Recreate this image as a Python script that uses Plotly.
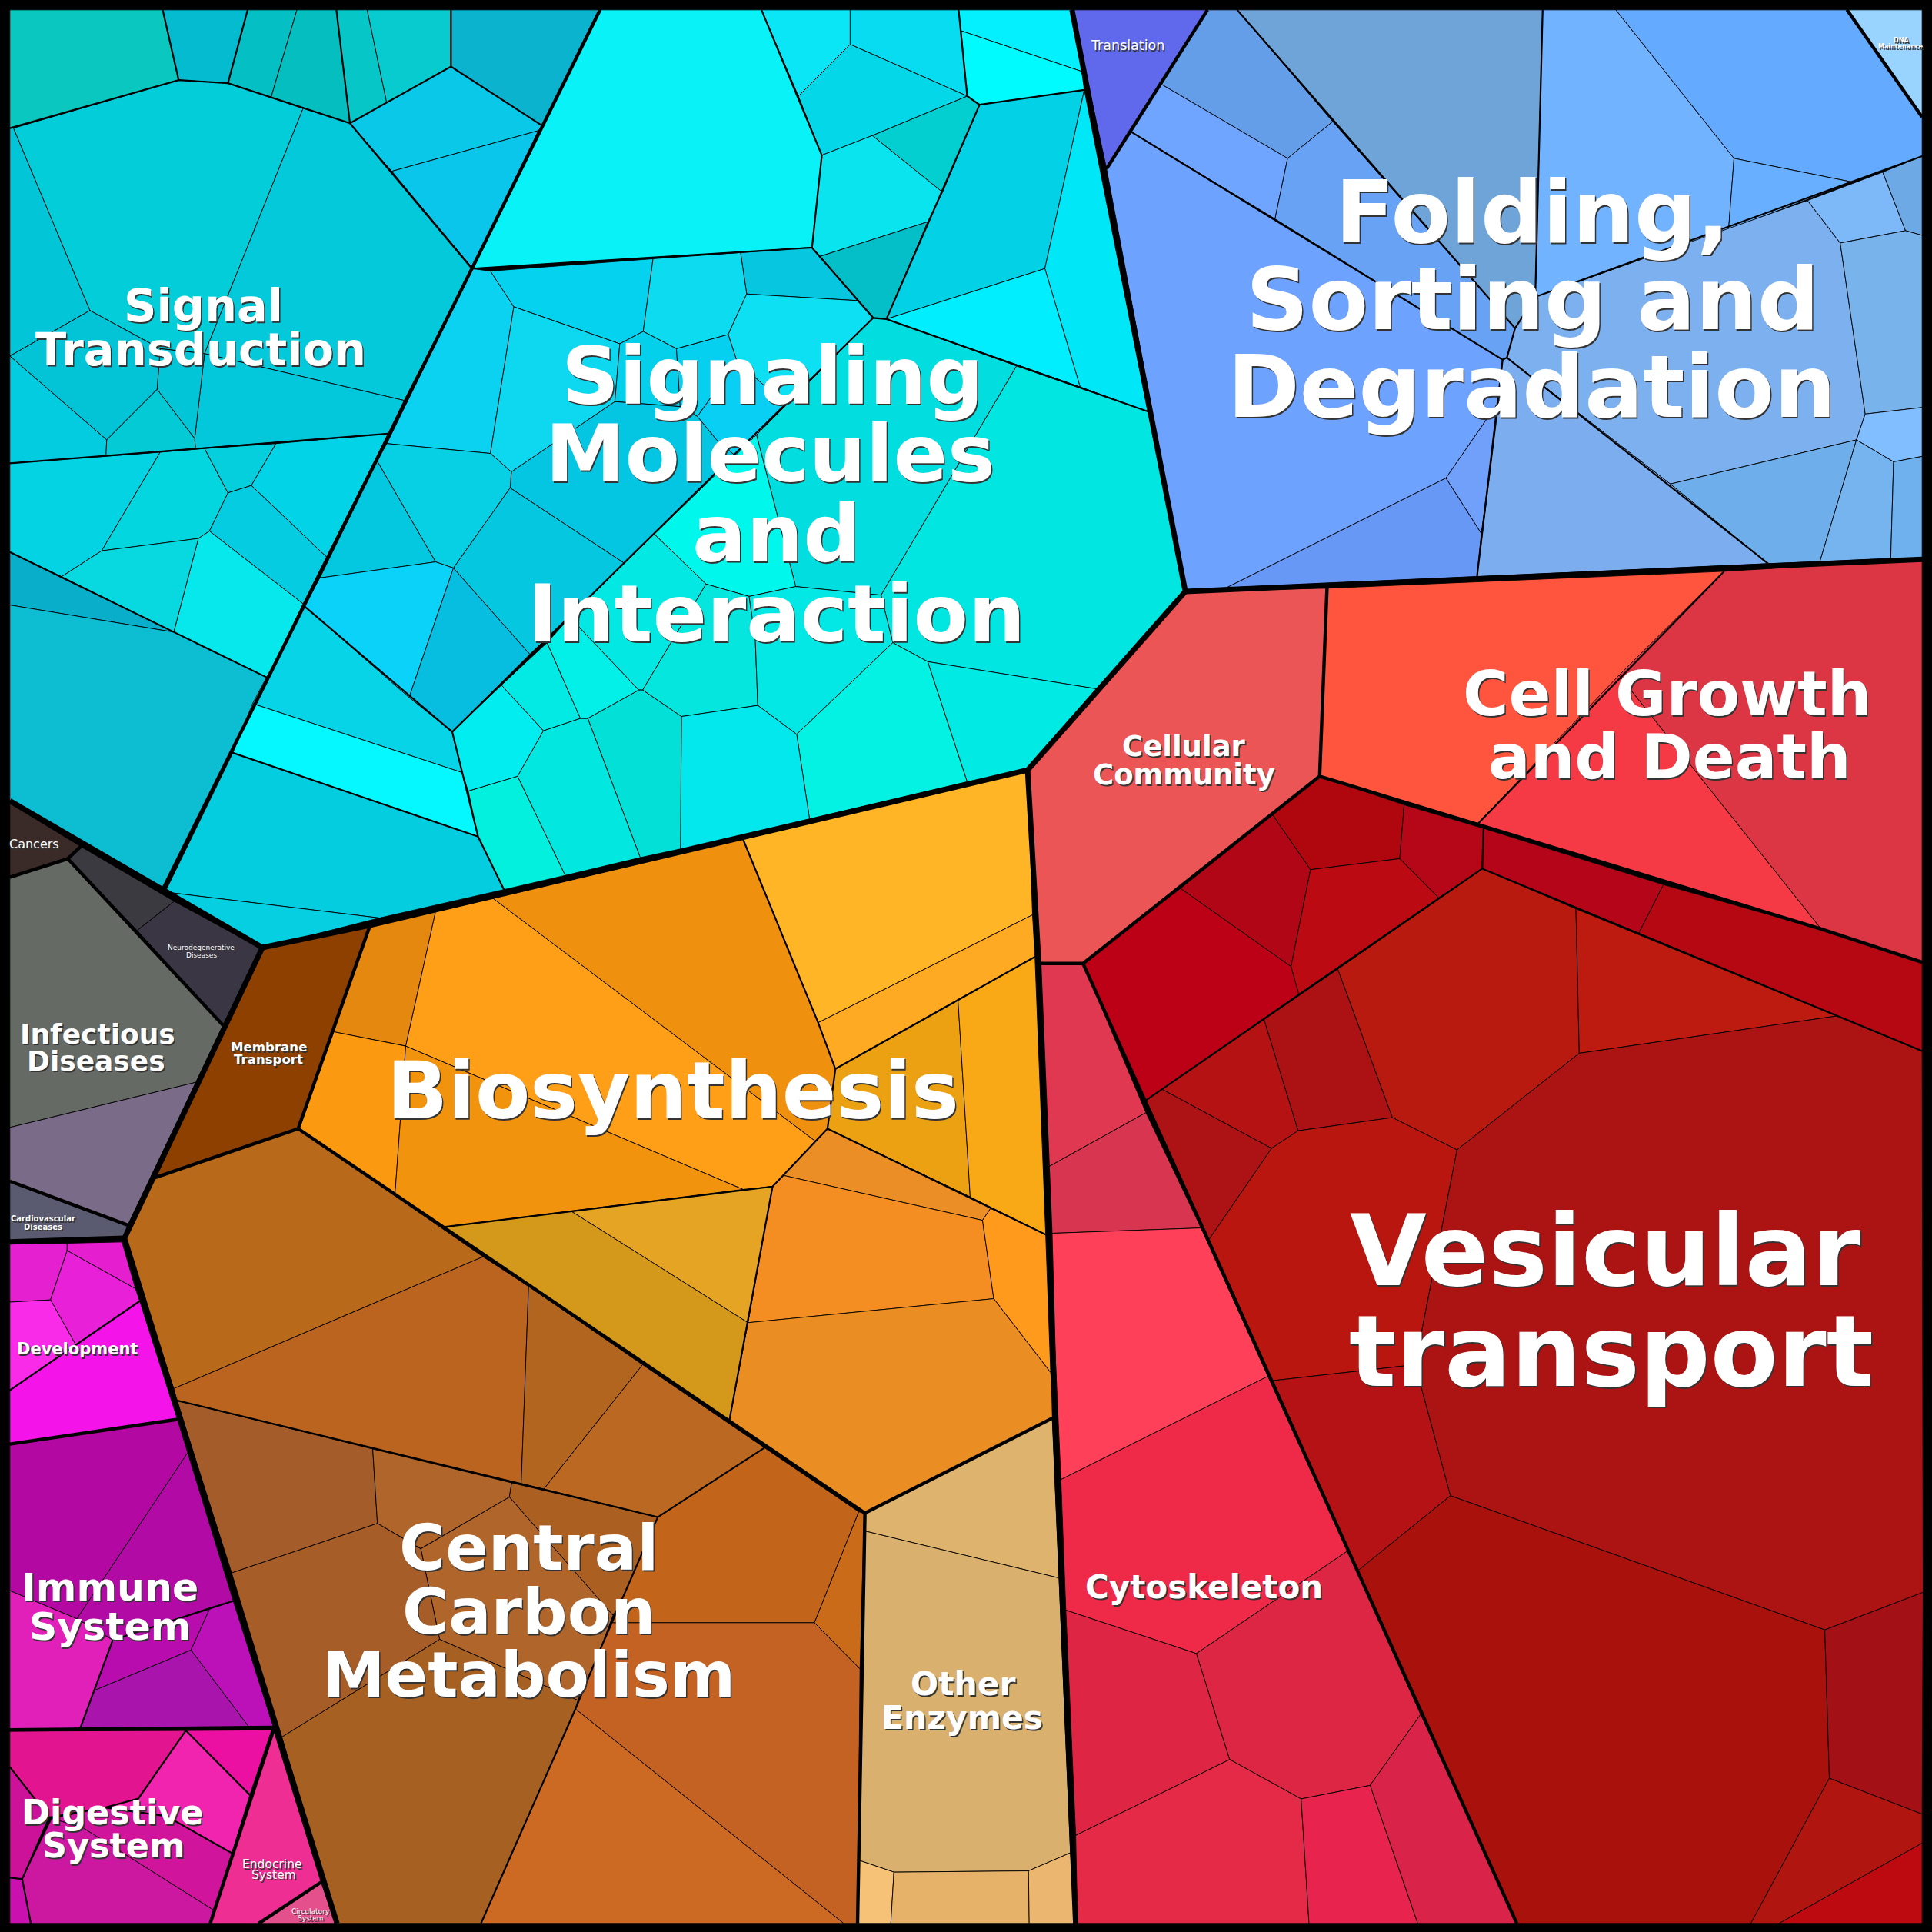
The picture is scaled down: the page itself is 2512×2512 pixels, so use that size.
import plotly.graph_objects as go

signal_cells = [
("#0AC8C0",[(8,8),(132,8),(145,65),(8,104)]),
("#04BBD0",[(132,8),(201,8),(185,67.5),(145,65)]),
("#04BFC4",[(201,8),(241,8),(220,79),(185,67.5)]),
("#05BEC0",[(241,8),(273,8),(284,100),(220,79)]),
("#06C6C8",[(273,8),(298,8),(314,84),(284,100)]),
("#08CBCF",[(298,8),(366,8),(366,54),(314,84)]),
("#0BB3CE",[(366,8),(487,8),(440,102),(366,54)]),
("#0AC8E8",[(366,54),(440,102),(437,106),(318,139),(284,100)]),
("#0AC6EA",[(318,139),(437,106),(383,217)]),
("#02C6D8",[(8,104),(11,104),(73,252),(8,289)]),
("#03CDD9",[(11,104),(145,65),(185,67.5),(246,88),(166,287),(130,283),(73,252)]),
("#03C9DA",[(246,88),(284,100),(383,217),(328,325),(166,287)]),
("#03C8DC",[(166,287),(328,325),(315,352),(158.6,364),(158,356)]),
("#02C6D8",[(130,283),(166,287),(158,356),(127.5,316)]),
("#02C4D6",[(8,289),(73,252),(130,283),(127.5,316),(86.6,357)]),
("#03CCE0",[(8,289),(86.6,357),(86,370),(8,376)]),
("#03CAD5",[(86.6,357),(127.5,316),(158,356),(158.6,364),(86,370)]),
("#03D3E3",[(8,376),(130,367),(82.5,447),(50,468),(8,448)]),
("#04D6E0",[(130,367),(166,364),(185,400),(170,431),(161,437),(82.5,447)]),
("#05CEDD",[(166,364),(224,360),(204,394),(185,400)]),
("#03D3E6",[(224,360),(315,352),(265,452),(204,394)]),
("#05CCE0",[(185,400),(204,394),(265,452),(246,490),(170,431)]),
("#06E8EC",[(161,437),(170,431),(246,490),(217,550),(141,513)]),
("#08D8E0",[(82.5,447),(161,437),(141,513),(50,468)]),
("#09AECB",[(8,448),(141,513),(8,491)]),
("#0DBDD2",[(8,491),(141,513),(217,550),(132,722),(8,650)]),
]

signaling_cells = [
("#08F2F8",[(487,8),(618,8),(667,126),(659,201),(383,218)]),
("#0AE6F5",[(618,8),(690,8),(690,36),(648,78)]),
("#08DCF0",[(690,8),(778,8),(785,78),(690,36)]),
("#04D8E8",[(648,78),(690,36),(785,78),(708,110),(667,126)]),
("#05F0FF",[(778,8),(870,8),(878,58),(780,25)]),
("#00FBFF",[(780,25),(878,58),(880,73),(795,85),(785,78)]),
("#04CFD0",[(708,110),(785,78),(795,85),(765,156)]),
("#0AE4EE",[(667,126),(708,110),(765,156),(753,180),(665.7,208),(659,201)]),
("#04BFC8",[(665.7,208),(753,180),(719.4,259),(708.7,258),(696.7,244)]),
("#03D2E6",[(795,85),(880,73),(848,218),(719.4,259),(753,180),(765,156)]),
("#00E8F8",[(880,73),(848,218),(876.6,314),(931.5,334)]),
("#00EEFF",[(719.4,259),(848,218),(876.6,314)]),
("#06C6E0",[(601,205),(658.5,200.6),(696.7,244),(606,238.6)]),
("#0AD2F0",[(383,218),(398,220),(417,249),(398,368),(314,360)]),
("#05D2EE",[(398,220),(530,210),(522,269),(503,279),(417,249)]),
("#0DDCF0",[(530,210),(601,205),(606,238.6),(591,271.5),(549,283),(522,269)]),
("#0ED8F0",[(417,249),(503,279),(499,326),(415,383),(398,368)]),
("#05D0EC",[(503,279),(522,269),(549,283),(552,330),(499,326)]),
("#0DE0F2",[(606,238.6),(696.7,244),(708.7,258),(640,325),(622,314.5),(598,293),(591,271.5)]),
("#06D0F0",[(549,283),(591,271.5),(598,293),(566,338),(552,330)]),
("#0ACFF5",[(566,338),(598,293),(622,314.5),(640,325),(614,353),(597,370),(582,357.5)]),
("#04C6E2",[(415,383),(499,326),(552,330),(566,338),(582,357.5),(597,370),(506.5,457),(414,396)]),
("#08D0E4",[(314,360),(398,368),(415,383),(414,396),(368,461),(353.5,456),(306,374)]),
("#05C8E0",[(414,396),(506.5,457),(430,531),(368,461)]),
("#04C8E0",[(306,374),(353.5,456),(259.6,469)]),
("#0AD2F8",[(259.6,469),(353.5,456),(368,461),(332,566),(247,492)]),
("#08BEE0",[(368,461),(430,531),(367,594),(332,566)]),
("#08D4E8",[(247,492),(332,566),(367,594),(375,627),(205,571)]),
("#05F8FF",[(205,571),(375,627),(388,679),(189,611)]),
("#04CDE0",[(189,611),(388,679),(409,722),(308,745),(134,724)]),
("#05CFE0",[(134,724),(308,745),(213,769)]),
("#02E6E2",[(825,297),(931.5,334),(962,480),(889.7,559),(753,537),(724.6,521.6),(715,483)]),
("#02DEE0",[(708.7,258),(719.4,259),(825,297),(715,483),(645.8,476),(614,353)]),
("#00F7EC",[(614,353),(645.8,476),(608,484),(573,474),(531,433.5)]),
("#03E8E2",[(531,433.5),(573,474),(521.6,560),(518.4,560),(469,508),(467,496)]),
("#05E6DF",[(573,474),(608,484),(613,519),(615,572.5),(553,581.5),(521.6,560)]),
("#03E8E4",[(645.8,476),(715,483),(724.6,521.6),(646.6,596),(615,572.5),(613,519),(608,484)]),
("#04F2E4",[(724.6,521.6),(753,537),(785,634.5),(657,664.6),(646.6,596)]),
("#02EAE4",[(753,537),(889.7,559),(834,625),(785,634.5)]),
("#02E8EC",[(615,572.5),(646.6,596),(657,664.6),(552.3,689),(553,581.5)]),
("#03E0D8",[(518.4,560),(521.6,560),(553,581.5),(552.3,689),(519.6,696),(477,583)]),
("#02E8E0",[(441,593),(471,583),(477,583),(519.6,696),(458.7,710.5),(420,630)]),
("#03F0DF",[(420,630),(458.7,710.5),(409,722),(388,679),(380,642)]),
("#02EDF0",[(367,594),(407,556),(441,593),(420,630),(380,642),(375,627)]),
("#03EAE4",[(407,556),(444,521.6),(471,583),(441,593)]),
("#02F0E8",[(444,521.6),(467,496),(469,508),(518.4,560),(477,583),(471,583)]),
]

folding_cells = [
("#6068EC",[(870,8),(980,8),(898,136.6)]),
("#659EE8",[(980,8),(1004,8),(1081.6,98.7),(1045,128.5),(942.4,68.3)]),
("#6FA4FF",[(942.4,68.3),(1045,128.5),(1034.8,177.6),(918,107)]),
("#68A2F5",[(1045,128.5),(1081.6,98.7),(1229.6,266.4),(1223,290.3),(1219.5,292),(1034.8,177.6)]),
("#6EA4D8",[(1004,8),(1252,8),(1246,241),(1229.6,266.4)]),
("#72B3FF",[(1252,8),(1311.4,8),(1407.3,128.5),(1402.9,186.3),(1246,241)]),
("#64ABFF",[(1311.4,8),(1499,8),(1560,94.7),(1560,126.7),(1503.6,147.8),(1407.3,128.5)]),
("#68B0FF",[(1407.3,128.5),(1503.6,147.8),(1402.9,186.3)]),
("#6EA2FF",[(898,136.6),(918,107),(1219.5,292),(1216.4,326),(1173.5,388),(995.4,477),(962.3,478.8)]),
("#70A0FA",[(1173.5,388),(1216.4,326),(1202.2,433)]),
("#6898F5",[(995.4,477),(1173.5,388),(1202.2,433),(1198.7,468)]),
("#7DB0EE",[(1223,290.3),(1229.6,266.4),(1246,241),(1467,162.7),(1493.5,197.2),(1513.8,336),(1506.7,357),(1355.6,392.8)]),
("#7CADEF",[(1219.5,292),(1223,290.3),(1355.6,392.8),(1435,457.4),(1198.7,468),(1216.4,326)]),
("#7DB8F8",[(1467,162.7),(1528,139.7),(1546.5,187.2),(1493.5,197.2)]),
("#6CA9E5",[(1528,139.7),(1560,126.7),(1560,191),(1546.5,187.2)]),
("#78B3EC",[(1493.5,197.2),(1546.5,187.2),(1560,191),(1560,330.7),(1513.8,336)]),
("#80BEFF",[(1513.8,336),(1560,330.7),(1560,370.4),(1536.8,374.8),(1506.7,357)]),
("#6EAEEA",[(1355.6,392.8),(1506.7,357),(1477,455.8),(1435,457.4)]),
("#76B4F0",[(1506.7,357),(1536.8,374.8),(1534.5,453.3),(1477,455.8)]),
("#6FB0EE",[(1536.8,374.8),(1560,370.4),(1560,453),(1534.5,453.3)]),
("#99D3FF",[(1499,8),(1560,8),(1560,94.7)]),
]

red_cells = [
("#EC5555",[(962,480),(1076.9,477.4),(1071,630),(879,782),(843,782),(834,625)]),
("#FF553F",[(1076.9,477.4),(1399,463.7),(1198.5,669.2),(1071,630)]),
("#F53A45",[(1198.5,669.2),(1314,548),(1478.5,754.5)]),
("#DC3645",[(1399,463.7),(1560,454),(1560,781.6),(1478.5,754.5),(1314,548)]),
("#B0060E",[(1032.7,661.2),(1071,630),(1139.6,653.2),(1136,696.9),(1063.6,705.8)]),
("#B50717",[(1139.6,653.2),(1204,672.3),(1203,705.2),(1167.6,728.7),(1136,696.9)]),
("#B00616",[(958,721),(1032.7,661.2),(1063.6,705.8),(1047.8,784.5)]),
("#BC0A12",[(1063.6,705.8),(1136,696.9),(1167.6,728.7),(1054,806.8),(1047.8,784.5)]),
("#BC0016",[(879,782),(958,721),(1047.8,784.5),(1054,806.8),(930,893)]),
("#B50518",[(1204,672.3),(1350,718),(1330,757.4),(1203,705.2)]),
("#B60812",[(1350,718),(1478.5,754.5),(1560,781.6),(1560,853.3),(1330,757.4)]),
("#B81A10",[(1203,705.2),(1279,737.6),(1281.7,854.8),(1182.5,933.2),(1130,907),(1085.7,786.6)]),
("#BD1A10",[(1279,737.6),(1490.5,824.6),(1281.7,854.8)]),
("#AC1214",[(1085.7,786.6),(1130,907),(1053.5,917.7),(1025.8,827.3)]),
("#B51214",[(943,884),(1025.8,827.3),(1053.5,917.7),(1032,932)]),
("#AD1215",[(930,893),(943,884),(1032,932),(981.4,1005.8)]),
("#B8160E",[(981.4,1005.8),(1032,932),(1053.5,917.7),(1130,907),(1182.5,933.2),(1148.6,1107.6),(1033,1120.5)]),
("#B41214",[(1033,1120.5),(1148.6,1107.6),(1177.2,1213.9),(1102.3,1274.5)]),
("#AC1414",[(1182.5,933.2),(1281.7,854.8),(1490.5,824.6),(1560,853.3),(1560.8,1292.3),(1481,1322.8),(1177.2,1213.9),(1148.6,1107.6)]),
("#A9120C",[(1102.3,1274.5),(1177.2,1213.9),(1481,1322.8),(1484.7,1443.2),(1421,1561),(1231,1561)]),
("#A31015",[(1481,1322.8),(1560.8,1292.3),(1560,1472.4),(1484.7,1443.2)]),
("#B0160F",[(1484.7,1443.2),(1560,1472.4),(1560,1495.9),(1444,1561),(1421,1561)]),
("#BD0A10",[(1444,1561),(1560,1495.9),(1560,1561)]),
("#E03850",[(843,782),(879,782),(930,903),(850,947.5)]),
("#D83650",[(850,947.5),(930,903),(974.8,996.6),(852,1001)]),
("#FF4058",[(852,1001),(974.8,996.6),(1029,1117),(861,1200.8)]),
("#EE2A48",[(861,1200.8),(1029,1117),(1093.6,1258.8),(971,1342),(865,1306.8)]),
("#DE2644",[(865,1306.8),(971,1342),(998,1428),(873,1489.6)]),
("#DC2644",[(971,1342),(1093.6,1258.8),(1153,1391.4),(1112,1449),(1056,1460),(998,1428)]),
("#E42A46",[(873,1489.6),(998,1428),(1056,1460),(1062.4,1561),(874.5,1561)]),
("#E8244E",[(1056,1460),(1112,1449),(1150.6,1561),(1062.4,1561)]),
("#DA2348",[(1112,1449),(1153,1391.4),(1231,1561),(1150.6,1561)]),
]

enzyme_cells = [
("#DDB36D",[(701.5,1228),(854,1151),(859.5,1280.7),(702,1242.6)]),
("#D9B06E",[(702,1242.6),(859.5,1280.7),(868.8,1503.7),(834.7,1518.4),(725.5,1519.4),(697.7,1510)]),
("#F5C277",[(697.7,1510),(725.5,1519.4),(723,1561),(696,1561)]),
("#E6B26A",[(725.5,1519.4),(834.7,1518.4),(835.3,1561),(723,1561)]),
("#EBB670",[(834.7,1518.4),(868.8,1503.7),(873,1561),(835.3,1561)]),
]

biosynthesis_cells = [
("#E5880F",[(300,752),(353.6,739.6),(329.3,848.9),(270.8,837.4)]),
("#FF9F17",[(353.6,739.6),(400,729),(661.6,926),(627,963),(603,965.3),(329.3,849)]),
("#F0900F",[(400,729),(603,681),(664,830),(678,867.5),(671.6,916),(661.6,926)]),
("#FB9A10",[(270.8,837.4),(329.3,849),(320.6,969),(242,916)]),
("#F2930E",[(329.3,849),(603,965.3),(360.4,995.8),(320.6,969)]),
("#FFB526",[(603,681),(834,625),(838,742.5),(664,830)]),
("#FFAA22",[(664,830),(838,742.5),(840,776.5),(678,867.5)]),
("#EBA112",[(678,867.5),(777.5,811.3),(787.4,971.4),(671.6,916)]),
("#FAA916",[(777.5,811.3),(840,776.5),(848.7,1002),(787.4,971.4)]),
("#EB8E25",[(636,954),(671.6,916),(787.4,971.4),(804,980.7),(797.4,990.4)]),
("#F58E22",[(627,963),(636,954),(797.4,990.4),(806.5,1054),(607,1073.5)]),
("#FF9A1D",[(804,980.7),(848.7,1002),(852.7,1114),(806.5,1054),(797.4,990.4)]),
("#EA8E24",[(607,1073.5),(806.5,1054),(852.7,1114),(856,1150),(702,1228),(592,1152.7)]),
("#E5A424",[(463.8,983.2),(627,962.8),(607,1073.5)]),
("#D4981A",[(360.4,995.8),(463.8,983.2),(607,1073.5),(592,1152.7)]),
]

carbon_cells = [
("#8D4000",[(213,769),(300,752),(242,916),(125,956)]),
("#B86A1A",[(125,956),(242,916),(392,1020),(141,1127),(101,1005)]),
("#BA6420",[(141,1127),(392,1020),(429,1044),(423,1204),(302.5,1176),(143.5,1136.6)]),
("#B2651F",[(429,1044),(521.5,1107.6),(441.3,1208.6),(423,1204)]),
("#BB6822",[(521.5,1107.6),(620.5,1175),(533.8,1231.3),(441.3,1208.6)]),
("#C2651A",[(533.8,1231.3),(620.5,1175),(697,1227),(661,1317),(496.5,1317),(503,1302)]),
("#CA6B1A",[(697,1227),(701.5,1228),(698,1354.6),(661,1317)]),
("#C46224",[(496.5,1317),(661,1317),(698,1354.6),(696,1561),(684.7,1561),(467,1387),(487,1339)]),
("#CC6A24",[(467,1387),(684.7,1561),(390.4,1561)]),
("#A55C2B",[(143.5,1136.6),(302.5,1176),(306.3,1236.4),(188,1276.6)]),
("#B0662A",[(302.5,1176),(415.3,1203.5),(413.4,1215),(341.5,1256.8),(306.3,1236.4)]),
("#AB6022",[(415.3,1203.5),(533.8,1231.3),(503,1302),(497.5,1311),(413.4,1215)]),
("#B0652A",[(341.5,1257),(413.4,1215),(497.5,1311),(487,1339),(469,1380),(356.8,1330.5)]),
("#A65D28",[(188,1276.6),(306.3,1236.4),(341.5,1257),(356.8,1330.5),(228.8,1409.8)]),
("#A66022",[(228.8,1409.8),(356.8,1330.5),(469,1380),(467,1387),(390.4,1561),(272,1561)]),
]

disease_cells = [
("#3A2A28",[(8,652),(65.5,687),(55,697),(8,712)]),
("#3A3A40",[(65.5,687),(141.4,731.5),(111.3,755.2),(55,697)]),
("#3A3644",[(141.4,731.5),(212,770),(181,832),(111.3,755.2)]),
("#666A64",[(8,712),(55,697),(181,832),(159,878.4),(8,915)]),
("#7A6B88",[(8,915),(159,878.4),(103.6,994.3),(8,958.6)]),
("#5A5A70",[(8,958.6),(103.6,994.3),(100,1004.6),(8,1008)]),
]

organismal_cells = [
("#E520D0",[(8,1009),(54.5,1009),(54.5,1015),(41,1055),(8,1056.8)]),
("#E51ED0",[(54.5,1009),(99,1008),(110,1046),(54.5,1015)]),
("#E820D8",[(54.5,1015),(110,1046),(113.4,1056),(61.4,1091.3),(41,1055)]),
("#FA2BE8",[(8,1056.8),(41,1055),(61.4,1091.3),(8,1128.3)]),
("#F414EA",[(8,1128.3),(61.4,1091.3),(113.4,1056),(144,1152),(8,1172)]),
("#B308A2",[(8,1172),(144,1152),(152.3,1179),(62.4,1313.8),(8,1291)]),
("#B20AA4",[(62.4,1313.8),(152.3,1179),(189.3,1299.3),(91.5,1331)]),
("#E020B8",[(8,1291),(62.4,1313.8),(91.5,1331),(65,1402.7),(8,1403.5)]),
("#B80CAE",[(91.5,1331),(170.6,1304.7),(155,1339.2),(76.5,1372)]),
("#BC10B8",[(170.6,1304.7),(189.3,1299.3),(222,1402),(202,1401.6),(155,1339.2)]),
("#A814AC",[(76.5,1372),(155,1339.2),(202,1401.6),(65,1402.7)]),
("#E3148F",[(8,1405),(150.8,1404.5),(112.3,1459.7),(85,1467),(40,1475),(8,1434)]),
("#EC10A2",[(150.8,1404.5),(220.5,1404),(202.8,1456.8)]),
("#F024AE",[(150.8,1404.5),(202.8,1456.8),(188.2,1504),(135,1474),(85,1467),(112.3,1459.7)]),
("#CC1298",[(8,1434),(40,1475),(18,1525),(8,1524)]),
("#D0149C",[(85,1467),(135,1474),(188.2,1504),(173.7,1550.5),(66.6,1483),(42,1476)]),
("#CC18A0",[(42,1476),(66.6,1483),(173.7,1550.5),(170.6,1561),(25,1561),(18,1525)]),
("#CA10AE",[(8,1524),(18,1525),(25,1561),(8,1561)]),
("#EE2E92",[(222,1404),(260.6,1527.6),(210,1561),(170.6,1561)]),
("#E4508C",[(260.6,1527.6),(272,1561),(210,1561)]),
]

top_borders = [
[(8,650),(132,722),(213,769),(300,751),(834,625),(962,480),(870,8)],
[(962,480),(1560,454)],
[(834,625),(843,782),(852,1001),(856,1150),(873,1561)],
[(213,769),(101,1005),(146.6,1152),(224.3,1402),(273.5,1561)],
[(8,1008),(101,1005)],
]

group_borders = [
[(487,8),(383,218),(132,722)],
[(879,782),(1231,1561)],
[(1071,630),(1199,669),(1478,754),(1560,781)],
[(1077,477),(1071,630),(879,782),(843,782)],
[(856,1150),(702,1228),(696,1561)],
[(242,916),(702,1228)],
[(300,752),(242,916),(125,956)],
[(8,712),(55,697),(181,832)],[(55,697),(65.5,687)],
[(8,958.6),(103.6,994.3)],
[(8,1172),(144,1152)],
[(8,1404),(222,1402)],
[(222,1404),(170.6,1561)],
[(210,1561),(260.6,1527.6)],
[(980,8),(898,137)],
[(1499,8),(1560,95)],
]

cluster_borders = [
[(8,104),(145,65),(185,67.5),(284,100),(383,218)],
[(132,8),(145,65)],[(201,8),(185,67.5)],[(273,8),(284,100)],
[(284,100),(366,54),(440,102)],[(366,8),(366,54)],
[(8,376),(315,352)],[(8,448),(141,513),(217,550)],
[(383,218),(659,201)],[(618,8),(667,126),(659,201)],
[(708.7,258),(367,594)],[(659,201),(708.7,258),(719.4,259),(931.5,334)],
[(778,8),(785,78),(795,85),(880,73)],[(795,85),(719.4,259)],
[(367,594),(375,627),(388,679),(409,722)],[(388,679),(189,611)],[(247,492),(367,594)],
[(1004,8),(1229.6,266.4)],[(1252,8),(1246,241)],[(1229.6,266.4),(1246,241),(1560,126.7)],
[(918,107),(1219.5,292),(1223,290.3),(1229.6,266.4)],[(1219.5,292),(1198.7,468)],[(1223,290.3),(1435,457.4)],
[(1204,672),(1203,705)],[(1203,705),(930,893)],[(1203,705),(1560,853)],[(1199,669),(1399,464)],
[(603,681),(664,830),(678,867.5),(671.6,916),(627,963),(360.4,995.8)],
[(678,867.5),(840,776.5)],[(671.6,916),(848.7,1002)],[(627,963),(592,1152.7)],
[(143.5,1136.6),(533.8,1231.3),(620.5,1175)],
[(533.8,1231.3),(503,1302),(487,1339),(467,1387),(390.4,1561)],
[(189.3,1299.3),(91.5,1331),(65,1403)],
[(8,1128.3),(113.4,1056)],
[(150.8,1404.5),(112.3,1459.7),(85,1467),(40,1475),(8,1434)],
[(150.8,1404.5),(202.8,1456.8)],
[(188.2,1504),(135,1474),(85,1467)],[(40,1475),(18,1525),(25,1561)],[(18,1525),(8,1524)],
]

labels = [
("Signal",165,248,59,True),("Transduction",163,284,59,True),
("Signaling",627,305,104,True),("Molecules",625,368,104,True),("and",630,433,104,True),("Interaction",630,498,104,True),
("Folding,",1244,172,113,True),("Sorting and",1244,243,113,True),("Degradation",1243,314,113,True),
("Cell Growth",1353,563,81,True),("and Death",1355,614,81,True),
("Cellular",961,606,37,True),("Community",961,629,37,True),
("Vesicular",1303,1015,129,True),("transport",1308,1097,128,True),
("Biosynthesis",546,885,104,True),
("Central",429,1256,82,True),("Carbon",429,1308,82,True),("Metabolism",429,1359,82,True),
("Other",782,1367,42.5,True),("Enzymes",781,1394,42.5,True),
("Cytoskeleton",977,1288,42,True),
("Immune",89,1288,50.5,True),("System",89,1320,50.5,True),
("Digestive",91,1471,44.5,True),("System",92,1498,44.5,True),
("Development",63,1095,21,True),
("Infectious",79,839,36,True),("Diseases",78,861,36,True),
("Membrane",218,850,16.6,True),("Transport",218,860,16.6,True),
("Cancers",28,685,16,False),("Translation",915,37,17.5,False),
("Neurodegenerative",163.5,769,9,False),("Diseases",163.5,775,9,False),
("Cardiovascular",35,989,10,True),("Diseases",35,996,10,True),
("Endocrine",221,1513,15.5,False),("System",222,1522,15.5,False),
("Circulatory",252,1551,9,False),("System",252,1557,9,False),
("DNA",1543,33,8,True),("Maintenance",1543,38,8,True),
]

fig = go.Figure()
for group in (signal_cells, signaling_cells, folding_cells, red_cells, enzyme_cells,
              biosynthesis_cells, carbon_cells, disease_cells, organismal_cells):
    for color, pts in group:
        fig.add_trace(go.Scatter(x=[p[0] for p in pts]+[pts[0][0]], y=[p[1] for p in pts]+[pts[0][1]],
                                 mode="lines", fill="toself", fillcolor=color,
                                 line=dict(color="#000000", width=0.9), hoverinfo="skip", showlegend=False))
for lines, w in ((cluster_borders, 2.2), (group_borders, 4.4), (top_borders, 7)):
    for pts in lines:
        fig.add_trace(go.Scatter(x=[p[0] for p in pts], y=[p[1] for p in pts], mode="lines",
                                 line=dict(color="#000000", width=w), hoverinfo="skip", showlegend=False))
for text, x, y, size, bold in labels:
    fig.add_annotation(x=x, y=y, text=text, showarrow=False, xanchor="center", yanchor="middle",
                       font=dict(family="DejaVu Sans", size=size, color="#FFFFFF",
                                 weight="bold" if bold else "normal",
                                 shadow="1.5px 1.5px 0.5px #333333"))
fig.update_layout(width=2512, height=2512, margin=dict(l=0, r=0, t=0, b=0),
                  paper_bgcolor="#000000", plot_bgcolor="#000000", showlegend=False,
                  xaxis=dict(range=[0,1568], visible=False, fixedrange=True),
                  yaxis=dict(range=[1568,0], visible=False, fixedrange=True))
fig.write_html("out.html", config={"displayModeBar": False},
               post_script="document.body.style.margin='0';document.body.style.background='#000';")
